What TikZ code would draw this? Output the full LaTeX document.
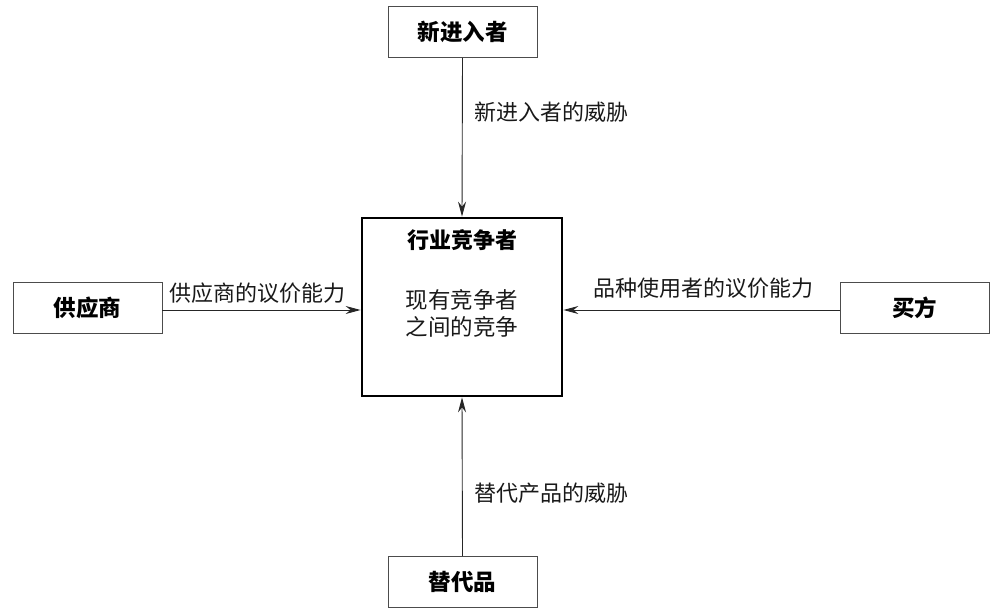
\documentclass[tikz,border=0pt]{standalone}
\usepackage{fontspec}
\setmainfont{Noto Sans CJK SC}
\usetikzlibrary{arrows.meta}
\begin{document}
\begin{tikzpicture}[x=1pt,y=-1pt,
  outerbox/.style={draw=black!70,line width=0.9pt,minimum width=149pt,minimum height=51pt,inner sep=0pt,font=\fontsize{22.5}{26}\selectfont\bfseries},
  mainbox/.style={draw=black,line width=2.8pt,minimum width=200pt,minimum height=178pt,inner sep=0pt},
  conn/.style={draw=black!85,line width=0.9pt,-{Stealth[length=15pt,width=8pt,inset=5pt]}},
  lbl/.style={font=\fontsize{22}{25}\selectfont,inner sep=0pt,text=black!90}
]
\useasboundingbox (0,0) rectangle (996,612);
\node[mainbox] (c) at (462,307) {};
\node[font=\fontsize{22}{25}\selectfont\bfseries,inner sep=0pt] (title) at (462,240) {行业竞争者};
\node[font=\fontsize{22.5}{27}\selectfont,align=center,inner sep=0pt,text=black!90] (sub) at (462,313) {现有竞争者\\之间的竞争};
\node[outerbox] (n) at (462.5,32) {新进入者};
\node[outerbox] (s) at (462.5,582) {替代品};
\node[outerbox] (l) at (87.5,307.5) {供应商};
\node[outerbox] (r) at (914.5,307.5) {买方};
\draw[conn] (n.south) -- (c.north);
\draw[conn] (s.north) -- (c.south);
\draw[conn] (l.east |- 0,310) -- (c.west |- 0,310);
\draw[conn] (r.west |- 0,310) -- (c.east |- 0,310);
\node[lbl,anchor=west] (tn) at (474,112) {新进入者的威胁};
\node[lbl,anchor=west] (ts) at (474,493) {替代产品的威胁};
\node[lbl,anchor=west] (tl) at (169,293) {供应商的议价能力};
\node[lbl,anchor=west] (tr) at (593,288) {品种使用者的议价能力};
\end{tikzpicture}
\end{document}
